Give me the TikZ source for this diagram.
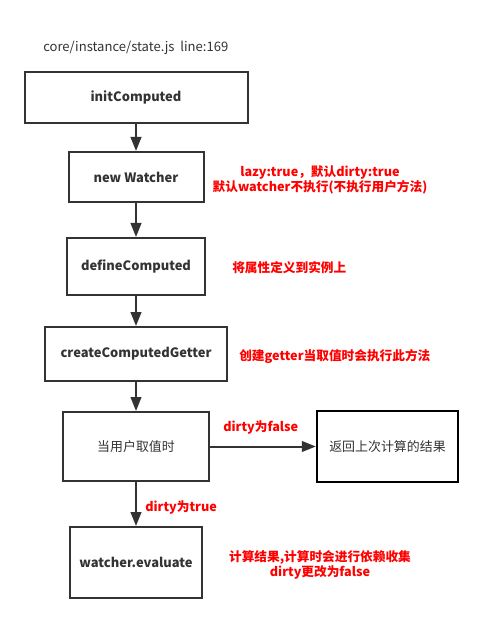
\documentclass[tikz,border=0pt]{standalone}
\usepackage{fontspec}
\setmainfont{Noto Sans CJK SC}
\usetikzlibrary{arrows.meta}
\definecolor{ink}{HTML}{333333}
\definecolor{redtxt}{HTML}{FF0000}
\tikzset{
  bx/.style={draw=ink, line width=1.5pt, rectangle, inner sep=0pt, text=ink, font=\fontsize{9.7pt}{11pt}\selectfont\bfseries},
  bxn/.style={bx, font=\fontsize{9.7pt}{11pt}\selectfont},
  arr/.style={draw=ink, line width=1.5pt, -{Triangle[length=10.5pt,width=8pt]}},
  note/.style={text=redtxt, inner sep=0pt, font=\fontsize{9.5pt}{11.25pt}\selectfont\bfseries, align=center},
}
\begin{document}
\begin{tikzpicture}[x=0.75pt,y=-0.75pt]
\useasboundingbox (0,0) rectangle (483,623);
\node[anchor=west, inner sep=0pt, text=ink, font=\fontsize{9.8pt}{11pt}\selectfont] (path) at (43,48) {core/instance/state.js\ \ line:169};
\node[bx, minimum width=223*0.75pt, minimum height=51*0.75pt] (b1) at (136,97.5) {initComputed};
\node[bx, minimum width=135*0.75pt, minimum height=50*0.75pt] (b2) at (136,177) {new Watcher};
\node[bx, minimum width=138*0.75pt, minimum height=57*0.75pt] (b3) at (136,266.5) {defineComputed};
\node[bx, minimum width=182*0.75pt, minimum height=54*0.75pt] (b4) at (136,354) {createComputedGetter};
\node[bxn, minimum width=146*0.75pt, minimum height=69*0.75pt] (b5) at (136,446.5) {当用户取值时};
\node[bxn, draw=black, line width=1.8pt, minimum width=141*0.75pt, minimum height=71*0.75pt] (b6) at (387.5,446.5) {返回上次计算的结果};
\node[bx, minimum width=132*0.75pt, minimum height=71*0.75pt] (b7) at (136,562.5) {watcher.evaluate};
\draw[arr] (b1) -- (b2);
\draw[arr] (b2) -- (b3);
\draw[arr] (b3) -- (b4);
\draw[arr] (b4) -- (b5);
\draw[arr] (b5) -- (b7);
\draw[arr] (b5.east) -- (b6.west);
\node[note] (n1) at (320,179.5) {lazy:true，默认dirty:true\\默认watcher不执行(不执行用户方法)};
\node[note, anchor=west] (n2) at (232,268) {将属性定义到实例上};
\node[note, anchor=west] (n3) at (239,356) {创建getter当取值时会执行此方法};
\node[note, anchor=west] (n4) at (223,427) {dirty为false};
\node[note, anchor=west] (n5) at (145,507) {dirty为true};
\node[note] (n6) at (320,564.5) {计算结果,计算时会进行依赖收集\\dirty更改为false};
\end{tikzpicture}
\end{document}
